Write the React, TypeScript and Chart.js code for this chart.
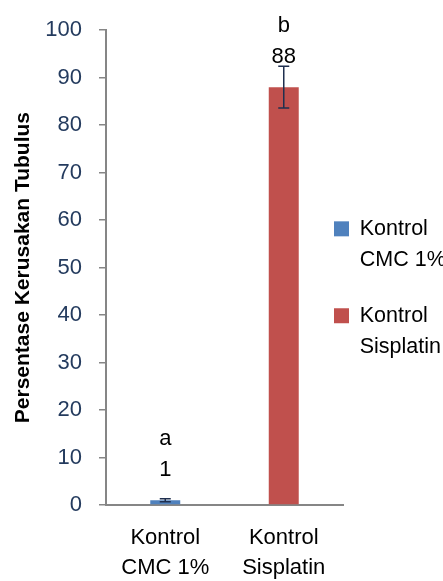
import React, { useEffect, useRef } from "react";
import { Chart, registerables } from "chart.js";

Chart.register(...registerables);

const categories: string[][] = [["Kontrol", "CMC 1%"], ["Kontrol", "Sisplatin"]];
const seriesNames: string[] = ["Kontrol\nCMC 1%", "Kontrol\nSisplatin"];
const means: number[] = [1, 88];
const errors: number[] = [0.3, 4.4];
const letters: string[] = ["a", "b"];
const yMin = 0;
const yMax = 100;
const yStep = 10;
const yTitle = "Persentase Kerusakan Tubulus";

const barColors = ["#4F81BD", "#C0504D"];
const FONT = "'Liberation Sans', Arial, sans-serif";

const errorBarPlugin = {
  id: "errorBars",
  afterDatasetsDraw(chart: any) {
    const { ctx } = chart;
    const y = chart.scales.y;
    chart.data.datasets.forEach((ds: any, di: number) => {
      const meta = chart.getDatasetMeta(di);
      meta.data.forEach((bar: any, i: number) => {
        const v = ds.data[i];
        if (v === null || v === undefined) return;
        const e = errors[i];
        const top = y.getPixelForValue(v + e);
        const bot = y.getPixelForValue(v - e);
        const x = bar.x;
        ctx.save();
        ctx.strokeStyle = "#1F2F4F";
        ctx.lineWidth = 1.5;
        ctx.beginPath();
        ctx.moveTo(x, top);
        ctx.lineTo(x, bot);
        ctx.moveTo(x - 5.5, top);
        ctx.lineTo(x + 5.5, top);
        ctx.moveTo(x - 5.5, bot);
        ctx.lineTo(x + 5.5, bot);
        ctx.stroke();
        ctx.restore();
      });
    });
  },
};

const labelPlugin = {
  id: "valueLabels",
  afterDatasetsDraw(chart: any) {
    const { ctx } = chart;
    chart.data.datasets.forEach((ds: any, di: number) => {
      const meta = chart.getDatasetMeta(di);
      meta.data.forEach((bar: any, i: number) => {
        const v = ds.data[i];
        if (v === null || v === undefined) return;
        ctx.save();
        ctx.fillStyle = "#000000";
        ctx.font = `22px ${FONT}`;
        ctx.textAlign = "center";
        ctx.textBaseline = "middle";
        ctx.fillText(String(v), bar.x, bar.y - 30);
        ctx.fillText(letters[i], bar.x, bar.y - 61);
        ctx.restore();
      });
    });
  },
};

const legendShift = {
  id: "legendShift",
  afterLayout(chart: any) {
    const lg = chart.legend;
    if (!lg) return;
    lg.left -= 34;
    lg.width = lg.right - lg.left;
    lg.top -= 10;
    lg.bottom -= 10;
  },
};

export default function App() {
  const ref = useRef<HTMLCanvasElement>(null);
  useEffect(() => {
    if (!ref.current) return;
    const chart = new Chart(ref.current, {
      type: "bar",
      data: {
        labels: categories,
        datasets: seriesNames.map((name, si) => ({
          label: name,
          data: means.map((v, j) => (j === si ? v : null)),
          backgroundColor: barColors[si],
          borderWidth: 0,
          grouped: false,
          categoryPercentage: 1,
          barPercentage: 0.253,
        })),
      },
      options: {
        animation: false,
        responsive: false,
        layout: { padding: { left: 0, right: 0, top: 24, bottom: 0 } },
        plugins: {
          tooltip: { enabled: false },
          legend: {
            display: true,
            position: "right",
            align: "center",
            maxWidth: 100,
            labels: {
              boxWidth: 15,
              boxHeight: 15,
              padding: 25,
              color: "#000000",
              font: { family: FONT, size: 21.5, lineHeight: 1.44 },
              generateLabels: (chart: any) => {
                const items = Chart.defaults.plugins.legend.labels.generateLabels(chart);
                return items.map((it: any) => ({
                  ...it,
                  text: String(it.text).split("\n"),
                  lineWidth: 0,
                }));
              },
            },
          },
        },
        scales: {
          x: {
            grid: { display: false, drawTicks: false },
            border: { display: true, color: "#868686", width: 2 },
            ticks: {
              color: "#000000",
              padding: 18,
              font: { family: FONT, size: 22, lineHeight: 1.36 },
              maxRotation: 0,
              autoSkip: false,
            },
            afterFit: (s: any) => {
              s.height = 76;
            },
          },
          y: {
            min: yMin,
            max: yMax,
            grid: {
              display: true,
              drawOnChartArea: false,
              drawTicks: true,
              tickLength: 7,
              color: "#868686",
              lineWidth: 1.5,
            },
            border: { display: true, color: "#868686", width: 2 },
            ticks: {
              stepSize: yStep,
              color: "#243B5E",
              padding: 17,
              font: { family: FONT, size: 22 },
            },
            title: {
              display: true,
              text: yTitle,
              color: "#000000",
              font: { family: FONT, size: 21, weight: "bold", lineHeight: 1 },
              padding: { top: 12.5, bottom: 0 },
            },
            afterFit: (s: any) => {
              s.width = 106;
            },
          },
        },
      },
      plugins: [errorBarPlugin, labelPlugin, legendShift],
    });
    return () => chart.destroy();
  }, []);
  return (
    <div style={{ position: "fixed", left: 0, top: 0, width: 443, height: 581, background: "#ffffff" }}>
      <canvas ref={ref} width={443} height={581} style={{ display: "block" }} />
    </div>
  );
}
